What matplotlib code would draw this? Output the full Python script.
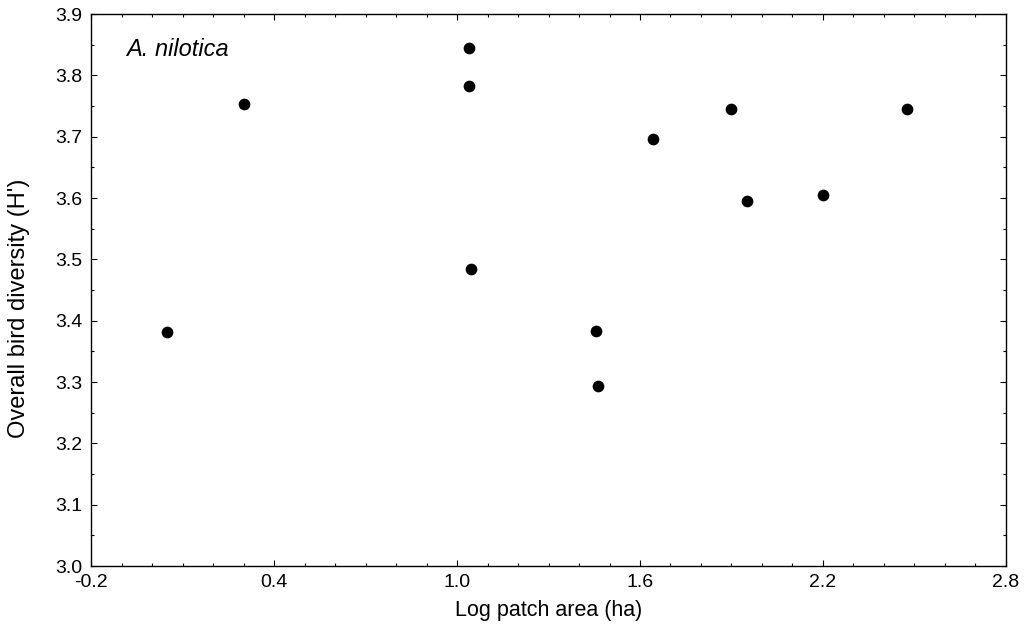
import matplotlib.pyplot as plt
from matplotlib.ticker import MultipleLocator

# ================= Data =================
log_area = [0.05, 0.303, 1.04, 1.04, 1.045, 1.455, 1.461, 1.642, 1.897, 1.95, 2.199, 2.476]
diversity = [3.381, 3.753, 3.844, 3.783, 3.484, 3.383, 3.294, 3.696, 3.745, 3.596, 3.605, 3.746]
x_ticks = [-0.2, 0.4, 1.0, 1.6, 2.2, 2.8]
y_ticks = [3.0, 3.1, 3.2, 3.3, 3.4, 3.5, 3.6, 3.7, 3.8, 3.9]
# ========================================

plt.rcParams['font.family'] = ['Liberation Sans', 'DejaVu Sans']

fig = plt.figure(figsize=(10.24, 6.4), dpi=100)
ax = fig.add_axes([0.0889, 0.1156, 0.8935, 0.8624])

ax.scatter(log_area, diversity, s=55, color='black', marker='o', zorder=3)

ax.set_xlim(-0.2, 2.8)
ax.set_ylim(3.0, 3.9)
ax.set_xticks(x_ticks)
ax.set_xticklabels([f"{v:.1f}" for v in x_ticks])
ax.set_yticks(y_ticks)
ax.set_yticklabels([f"{v:.1f}" for v in y_ticks])
ax.xaxis.set_minor_locator(MultipleLocator(0.1))
ax.yaxis.set_minor_locator(MultipleLocator(0.05))

ax.tick_params(which='both', direction='in', top=True, right=True,
               labelsize=14, width=0.8, color='black')
ax.tick_params(which='major', length=4, pad=6)
ax.tick_params(which='minor', length=2.5)

for s in ax.spines.values():
    s.set_linewidth(1.0)

ax.set_xlabel('Log patch area (ha)', fontsize=15.5, labelpad=6)
ax.set_ylabel("Overall bird diversity (H')", fontsize=17)
ax.yaxis.set_label_coords(-0.067, 0.467)

ax.text(0.038, 0.935, 'A. nilotica', transform=ax.transAxes,
        fontsize=17, style='italic', va='center', ha='left')

fig.savefig('out.png', dpi=100)
